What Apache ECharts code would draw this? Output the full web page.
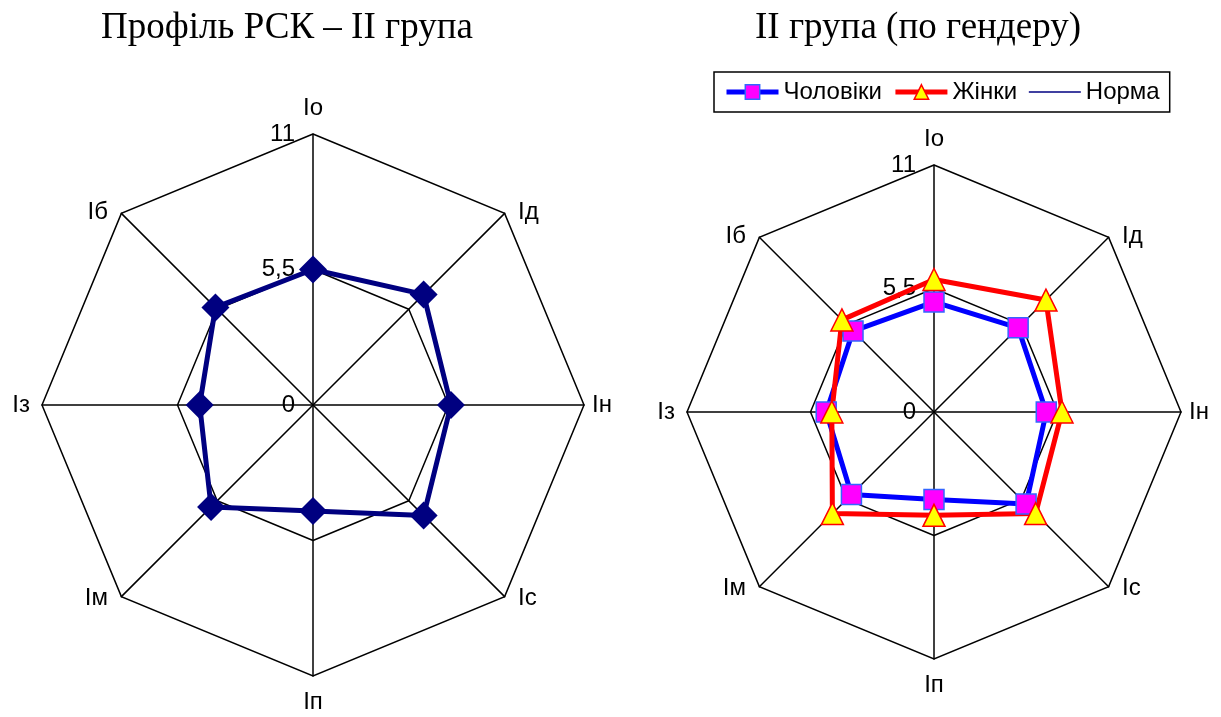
<!DOCTYPE html>
<html><head><meta charset="utf-8">
<script src="https://cdn.jsdelivr.net/npm/echarts@6/dist/echarts.min.js"></script>
<style>html,body{margin:0;padding:0;background:#fff}#c{width:1221px;height:717px}</style>
</head><body><div id="c"></div>
<script>
// clockwise from top
const categories = ['Іо','Ід','Ін','Іс','Іп','Ім','Із','Іб'];
const axisMin = 0;
const axisMax = 11;
const profileII = [5.5, 6.35, 5.6, 6.35, 4.3, 5.85, 4.6, 5.6];
const men = [4.9, 5.3, 5.0, 5.8, 3.9, 5.2, 4.8, 5.1];
const women = [5.9, 7.05, 5.7, 6.4, 4.6, 6.4, 4.55, 5.8];
const norm = [5.5, 5.5, 5.5, 5.5, 5.5, 5.5, 5.5, 5.5];
const titleLeft = 'Профіль РСК – ІІ група';
const titleRight = 'ІІ група (по гендеру)';
const seriesNames = ['Чоловіки', 'Жінки', 'Норма'];

// ECharts radar runs counter-clockwise: reorder
const order = [0, 7, 6, 5, 4, 3, 2, 1];
const ccw = arr => order.map(i => arr[i]);
const gaps = [14, 19, 8, 19, 14, 19, 12, 19];
const nameVAlign = [null, 'top', null, 'bottom', null, 'bottom', null, 'top'];

function makeRadar(center, radius) {
  return {
    center: center, radius: radius, startAngle: 90, shape: 'polygon', splitNumber: 2,
    indicator: order.map((i, k) => {
      const ind = { name: categories[i], min: axisMin, max: axisMax, nameGap: gaps[i],
                    axisLabel: { show: k === 0 } };
      if (nameVAlign[i]) ind.nameTextStyle = { verticalAlign: nameVAlign[i] };
      return ind;
    }),
    axisName: { color: '#000', fontSize: 24, fontFamily: 'Liberation Sans' },
    axisLine: { lineStyle: { color: '#000', width: 1.5 } },
    splitLine: { lineStyle: { color: ['#000', 'rgba(0,0,0,0)', '#000'], width: 1.5 } },
    splitArea: { show: false },
    axisTick: { show: false },
    axisLabel: {
      show: true, color: '#000', fontSize: 24, fontFamily: 'Liberation Sans',
      margin: 18, formatter: v => String(v).replace('.', ',')
    }
  };
}

const chart = echarts.init(document.getElementById('c'));
chart.setOption({
  backgroundColor: '#fff',
  animation: false,
  title: [
    { text: titleLeft, left: 282, top: 5, textAlign: 'center',
      textStyle: { fontFamily: 'Liberation Serif', fontSize: 37, fontWeight: 'normal', color: '#000' } },
    { text: titleRight, left: 913, top: 5, textAlign: 'center',
      textStyle: { fontFamily: 'Liberation Serif', fontSize: 37, fontWeight: 'normal', color: '#000' } }
  ],
  legend: {
    left: 714, top: 72, orient: 'horizontal',
    padding: [8, 10], itemGap: 11, itemWidth: 52, itemHeight: 18,
    borderColor: '#000', borderWidth: 1.5, borderRadius: 0,
    textStyle: { fontSize: 24, fontFamily: 'Liberation Sans', color: '#000' },
    lineStyle: { width: 'inherit' },
    itemStyle: { borderWidth: 'inherit' },
    data: [
      { name: seriesNames[0] },
      { name: seriesNames[1] },
      { name: seriesNames[2], itemStyle: { opacity: 0 } }
    ]
  },
  grid: { left: 0, top: 0, width: 1, height: 1, show: false },
  xAxis: { type: 'value', show: false },
  yAxis: { type: 'value', show: false },
  radar: [makeRadar([313, 405], 271), makeRadar([934, 412], 247)],
  series: [
    // legend representatives
    { type: 'line', name: seriesNames[0], data: [], symbol: 'rect',
      lineStyle: { color: '#0000FF', width: 5 },
      itemStyle: { color: '#FF00FF', borderColor: '#3366FF', borderWidth: 1.5 } },
    { type: 'line', name: seriesNames[1], data: [], symbol: 'triangle',
      lineStyle: { color: '#FF0000', width: 5 },
      itemStyle: { color: '#FFFF00', borderColor: '#FF0000', borderWidth: 1.5 } },
    { type: 'line', name: seriesNames[2], data: [], symbol: 'circle',
      lineStyle: { color: '#000080', width: 1.5 },
      itemStyle: { color: '#000080' } },
    // left chart
    { type: 'radar', radarIndex: 0, name: seriesNames[2], symbol: 'none',
      lineStyle: { color: '#000', width: 1.5 }, itemStyle: { color: '#000' },
      data: [{ value: ccw(norm) }] },
    { type: 'radar', radarIndex: 0, name: titleLeft, symbol: 'diamond', symbolSize: 28,
      lineStyle: { color: '#000080', width: 5 }, itemStyle: { color: '#000080' },
      data: [{ value: ccw(profileII) }] },
    // right chart
    { type: 'radar', radarIndex: 1, name: seriesNames[2], symbol: 'none',
      lineStyle: { color: '#000', width: 1.5 }, itemStyle: { color: '#000' },
      data: [{ value: ccw(norm) }] },
    { type: 'radar', radarIndex: 1, name: seriesNames[0], symbol: 'rect', symbolSize: 20,
      lineStyle: { color: '#0000FF', width: 5 },
      itemStyle: { color: '#FF00FF', borderColor: '#3366FF', borderWidth: 1.5 },
      data: [{ value: ccw(men) }] },
    { type: 'radar', radarIndex: 1, name: seriesNames[1], symbol: 'triangle', symbolSize: 22,
      lineStyle: { color: '#FF0000', width: 5 },
      itemStyle: { color: '#FFFF00', borderColor: '#FF0000', borderWidth: 1.5 },
      data: [{ value: ccw(women) }] }
  ]
});
</script>
</body></html>
